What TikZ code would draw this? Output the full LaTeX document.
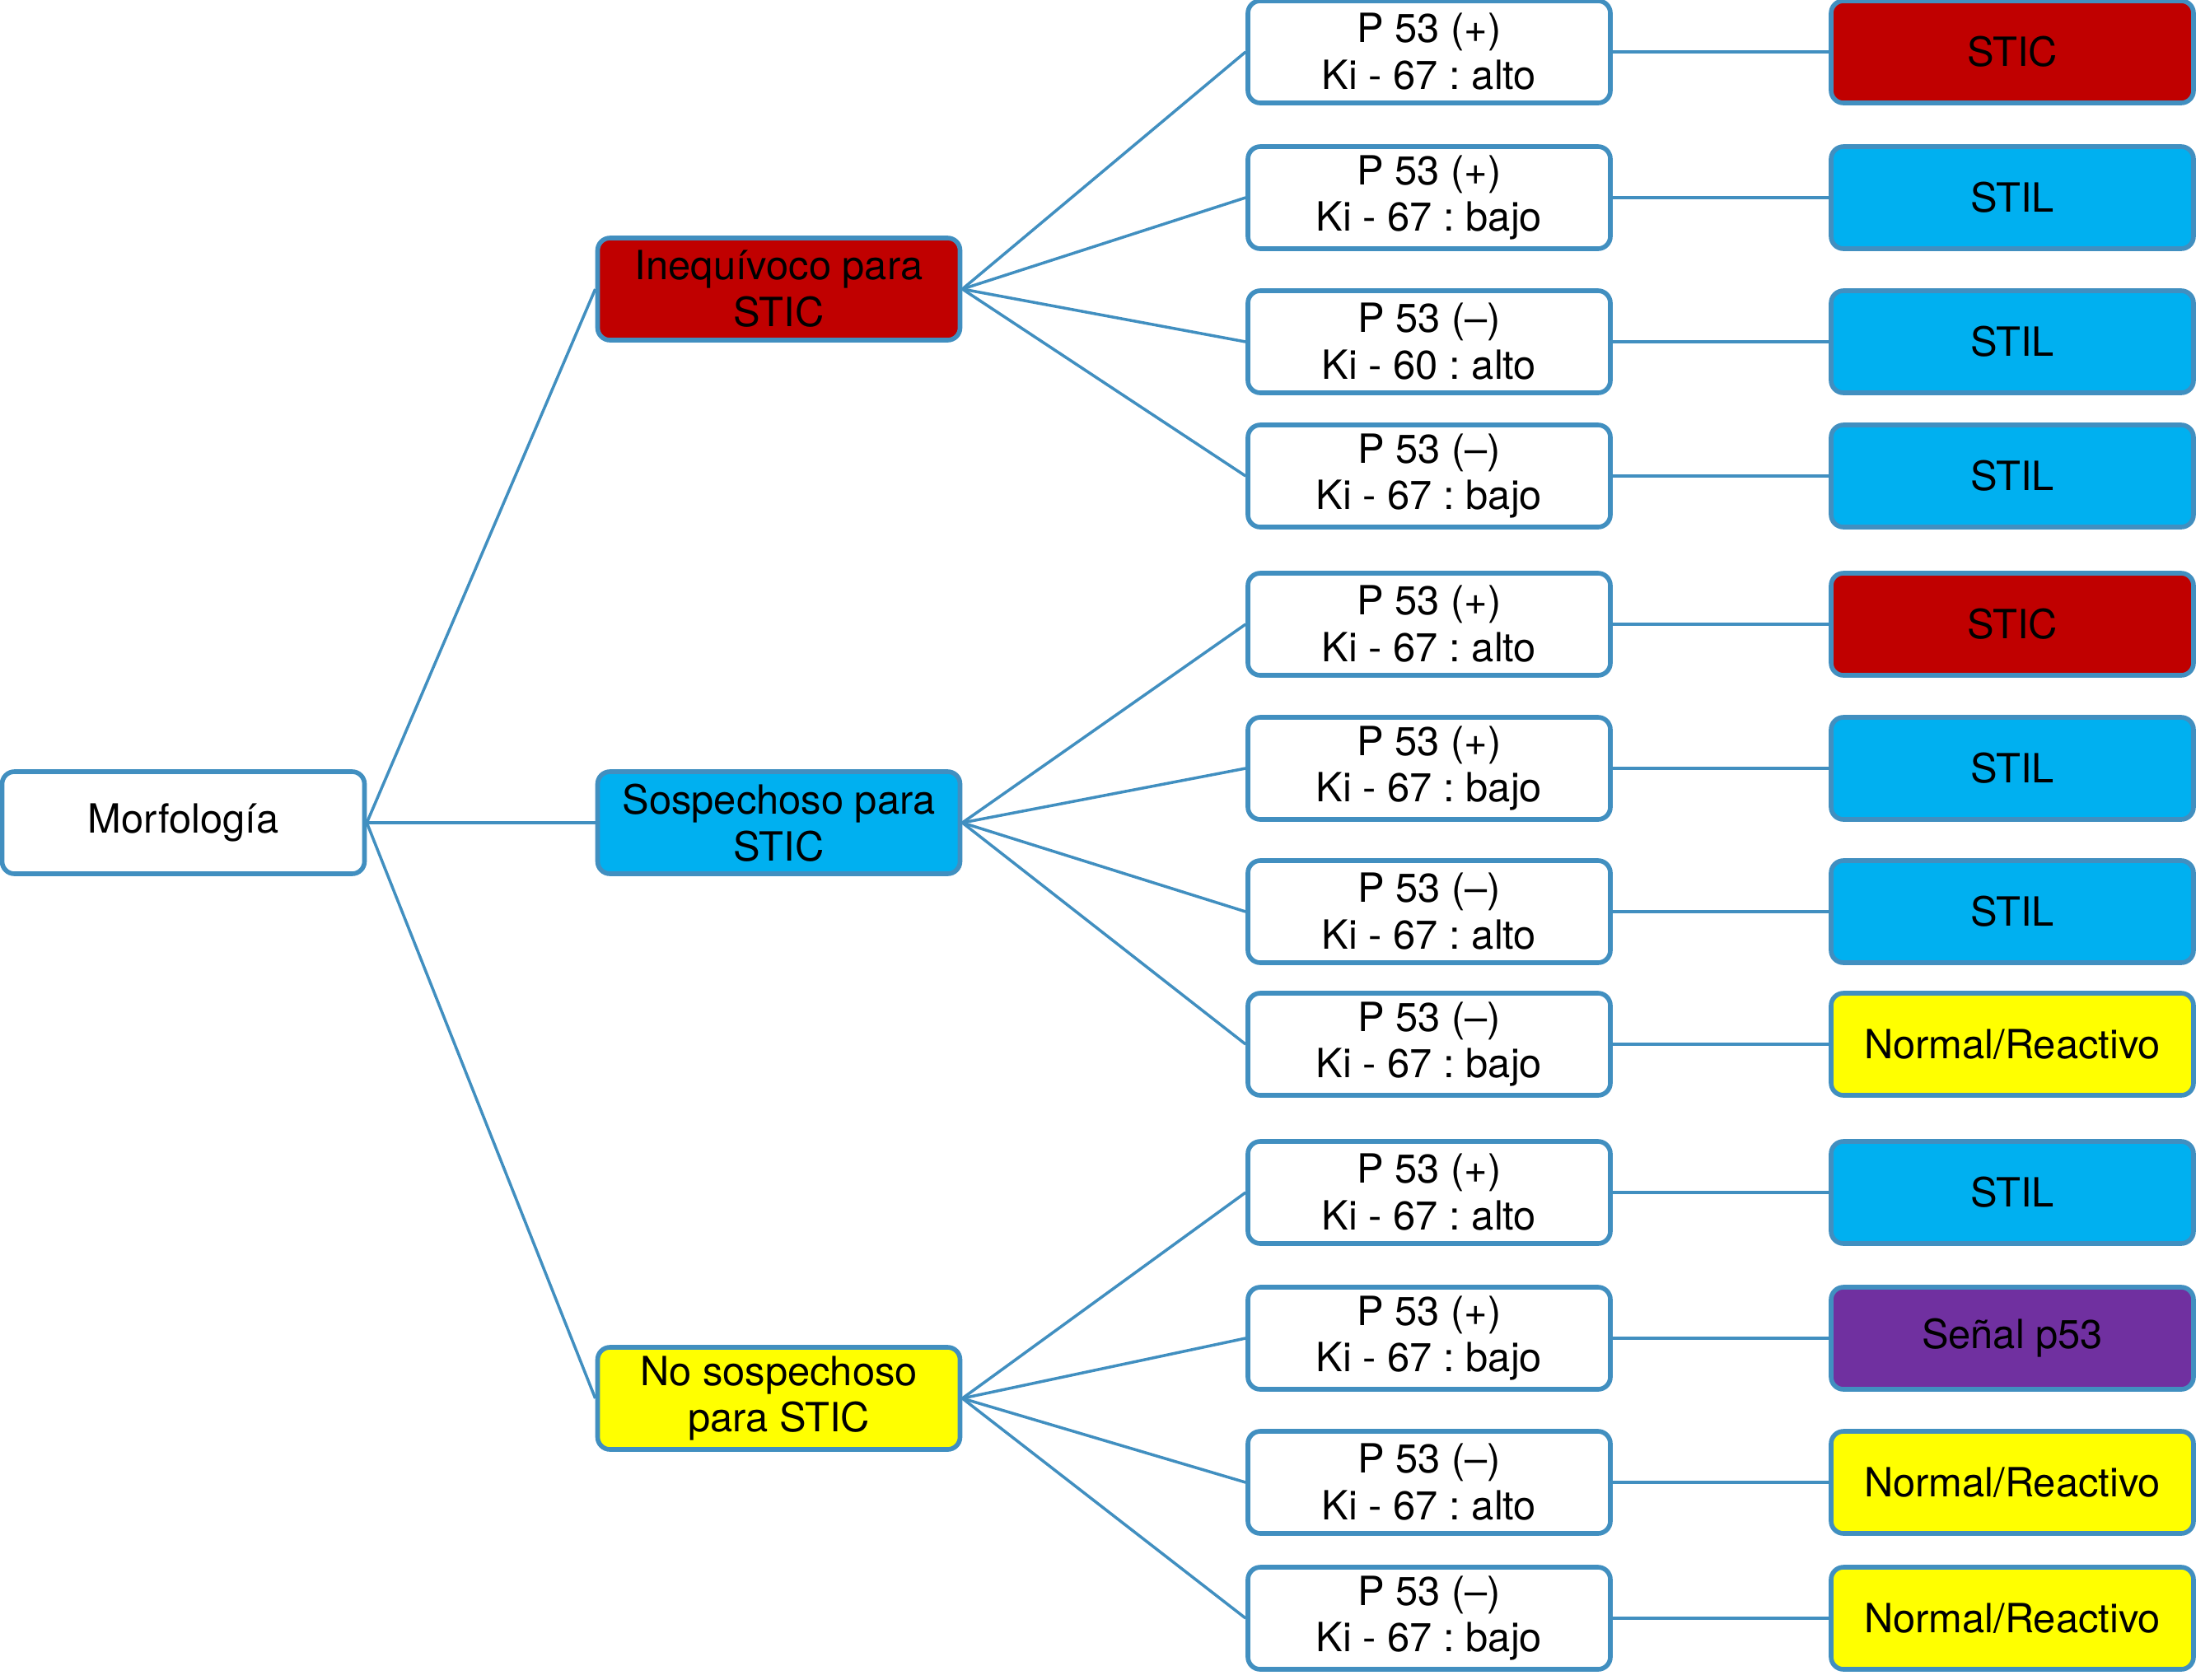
\documentclass[tikz,border=0pt]{standalone}
\usepackage{fontspec}
\setmainfont{TeX Gyre Heros}
\usetikzlibrary{positioning}
\frenchspacing

\definecolor{lineblue}{RGB}{65,143,192}
\definecolor{sticred}{RGB}{192,0,0}
\definecolor{stilblue}{RGB}{0,176,240}
\definecolor{normyellow}{RGB}{255,255,0}
\definecolor{senalpurple}{RGB}{112,48,160}

\tikzset{
  box/.style={draw=lineblue, line width=1.6pt, rounded corners=0.15cm,
    minimum width=4.4cm, minimum height=1.24cm, inner sep=0pt,
    align=center, font=\fontsize{13.9}{16.2}\selectfont},
  link/.style={draw=lineblue, line width=1pt},
}

\begin{document}
\begin{tikzpicture}
\useasboundingbox (0,0) rectangle (26.66,-20.40);
%Start with the root, then the three morphology groups,
% then the p53 / Ki-67 boxes and finally the result
% box that belongs to each of them.
\node[box] (morf) at (2.225,-9.99) {Morfología};

\node[box, fill=sticred] (ineq) at (9.455,-3.51) {Inequívoco para\\STIC};
\node[box, fill=stilblue] (sosp) at (9.455,-9.99) {Sospechoso para\\STIC};
\node[box, fill=normyellow] (nosp) at (9.455,-16.98) {No sospechoso\\para STIC};

% p53 / Ki-67 column
\node[box] (p1) at (17.35,-0.63) {P 53 (+)\\Ki - 67 : alto};
\node[box] (p2) at (17.35,-2.40) {P 53 (+)\\Ki - 67 : bajo};
\node[box] (p3) at (17.35,-4.15) {P 53 (–)\\Ki - 60 : alto};
\node[box] (p4) at (17.35,-5.78) {P 53 (–)\\Ki - 67 : bajo};
\node[box] (p5) at (17.35,-7.58) {P 53 (+)\\Ki - 67 : alto};
\node[box] (p6) at (17.35,-9.33) {P 53 (+)\\Ki - 67 : bajo};
\node[box] (p7) at (17.35,-11.07) {P 53 (–)\\Ki - 67 : alto};
\node[box] (p8) at (17.35,-12.68) {P 53 (–)\\Ki - 67 : bajo};
\node[box] (p9) at (17.35,-14.48) {P 53 (+)\\Ki - 67 : alto};
\node[box] (p10) at (17.35,-16.25) {P 53 (+)\\Ki - 67 : bajo};
\node[box] (p11) at (17.35,-18.00) {P 53 (–)\\Ki - 67 : alto};
\node[box] (p12) at (17.35,-19.65) {P 53 (–)\\Ki - 67 : bajo};

% results
\node[box, fill=sticred] (r1) at (24.43,-0.63) {STIC};
\node[box, fill=stilblue] (r2) at (24.43,-2.40) {STIL};
\node[box, fill=stilblue] (r3) at (24.43,-4.15) {STIL};
\node[box, fill=stilblue] (r4) at (24.43,-5.78) {STIL};
\node[box, fill=sticred] (r5) at (24.43,-7.58) {STIC};
\node[box, fill=stilblue] (r6) at (24.43,-9.33) {STIL};
\node[box, fill=stilblue] (r7) at (24.43,-11.07) {STIL};
\node[box, fill=normyellow] (r8) at (24.43,-12.68) {Normal/Reactivo};
\node[box, fill=stilblue] (r9) at (24.43,-14.48) {STIL};
\node[box, fill=senalpurple] (r10) at (24.43,-16.25) {Señal p53};
\node[box, fill=normyellow] (r11) at (24.43,-18.00) {Normal/Reactivo};
\node[box, fill=normyellow] (r12) at (24.43,-19.65) {Normal/Reactivo};

% connectors
\draw[link] (morf.east) -- (ineq.west);
\draw[link] (morf.east) -- (sosp.west);
\draw[link] (morf.east) -- (nosp.west);

\draw[link] (ineq.east) -- (p1.west);
\draw[link] (ineq.east) -- (p2.west);
\draw[link] (ineq.east) -- (p3.west);
\draw[link] (ineq.east) -- (p4.west);
\draw[link] (sosp.east) -- (p5.west);
\draw[link] (sosp.east) -- (p6.west);
\draw[link] (sosp.east) -- (p7.west);
\draw[link] (sosp.east) -- (p8.west);
\draw[link] (nosp.east) -- (p9.west);
\draw[link] (nosp.east) -- (p10.west);
\draw[link] (nosp.east) -- (p11.west);
\draw[link] (nosp.east) -- (p12.west);

\draw[link] (p1.east) -- (r1.west);
\draw[link] (p2.east) -- (r2.west);
\draw[link] (p3.east) -- (r3.west);
\draw[link] (p4.east) -- (r4.west);
\draw[link] (p5.east) -- (r5.west);
\draw[link] (p6.east) -- (r6.west);
\draw[link] (p7.east) -- (r7.west);
\draw[link] (p8.east) -- (r8.west);
\draw[link] (p9.east) -- (r9.west);
\draw[link] (p10.east) -- (r10.west);
\draw[link] (p11.east) -- (r11.west);
\draw[link] (p12.east) -- (r12.west);
\end{tikzpicture}
\end{document}
